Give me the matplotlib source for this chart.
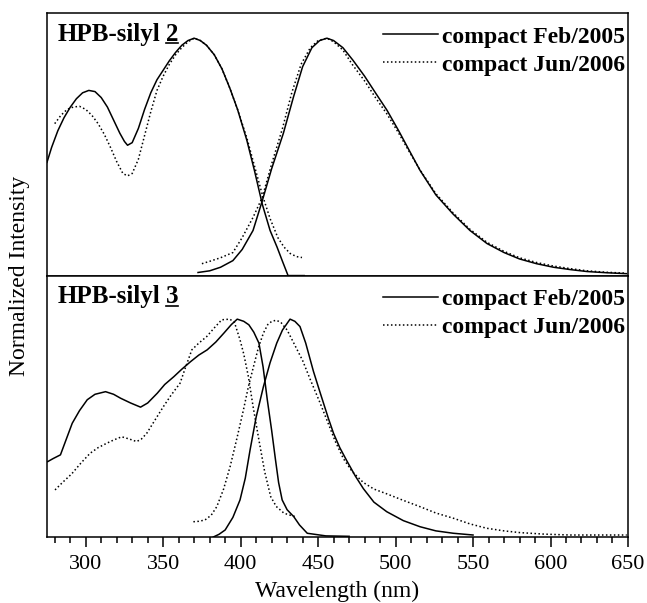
import matplotlib
matplotlib.use("Agg")
import matplotlib.pyplot as plt
from matplotlib.lines import Line2D
from matplotlib.ticker import MultipleLocator

plt.rcParams['font.family'] = ['Liberation Serif', 'DejaVu Serif']

# ---- HPB-silyl 2 ----
abs2_feb_x = [275, 278, 282, 286, 290, 294, 298, 302, 306, 310, 314, 318, 322, 325, 327,
              330, 334, 338, 342, 346, 350, 354, 358, 362, 366, 370, 374, 378, 383, 388,
              393, 398, 404, 409, 414, 419, 423.5, 427, 430.6, 435, 441]
abs2_feb_y = [0.477, 0.54, 0.61, 0.665, 0.709, 0.745, 0.77, 0.78, 0.775, 0.75, 0.71,
              0.655, 0.60, 0.565, 0.549, 0.56, 0.62, 0.70, 0.77, 0.825, 0.865, 0.905,
              0.94, 0.97, 0.99, 1.0, 0.99, 0.97, 0.93, 0.87, 0.79, 0.70, 0.57, 0.44,
              0.30, 0.19, 0.12, 0.06, 0.0, 0.0, 0.0]
abs2_jun_x = [280, 284, 288, 292, 296, 300, 304, 308, 312, 316, 320, 324, 327, 330, 334,
              338, 342, 346, 350, 354, 358, 362, 366, 370, 374, 378, 383, 388, 393, 398,
              404, 409, 414, 419, 424, 428, 432, 436, 439.6]
abs2_jun_y = [0.64, 0.675, 0.70, 0.71, 0.713, 0.70, 0.675, 0.64, 0.595, 0.54, 0.48, 0.43,
              0.42, 0.43, 0.49, 0.59, 0.69, 0.78, 0.84, 0.89, 0.93, 0.96, 0.985, 1.0,
              0.99, 0.97, 0.93, 0.87, 0.79, 0.70, 0.58, 0.46, 0.34, 0.24, 0.16, 0.12,
              0.093, 0.08, 0.076]
em2_feb_x = [372.5, 380, 387, 395, 401, 408, 414, 420, 427.6, 434, 440, 446, 451, 455.7,
             460, 466, 472.5, 480, 487, 494.5, 502, 509, 515.8, 526, 537, 548, 559,
             570, 580, 591, 602, 613, 623.6, 636, 649]
em2_feb_y = [0.013, 0.02, 0.035, 0.063, 0.11, 0.19, 0.316, 0.45, 0.60, 0.75, 0.88, 0.96,
             0.99, 1.0, 0.99, 0.96, 0.907, 0.84, 0.77, 0.696, 0.61, 0.525, 0.443, 0.34,
             0.26, 0.19, 0.135, 0.097, 0.07, 0.05, 0.035, 0.025, 0.017, 0.012, 0.008]
em2_jun_x = [375, 380, 387, 395, 401, 408, 414, 420, 427, 433, 439, 445, 450, 455.7,
             460, 466, 472, 480, 487, 494.5, 502, 509, 515.8, 526, 537, 548, 559,
             570, 580, 591, 602, 613, 623.6, 636, 649]
em2_jun_y = [0.05, 0.06, 0.075, 0.097, 0.16, 0.245, 0.33, 0.47, 0.62, 0.77, 0.89, 0.96,
             0.99, 1.0, 0.985, 0.95, 0.89, 0.82, 0.75, 0.68, 0.60, 0.52, 0.445, 0.345,
             0.265, 0.195, 0.14, 0.102, 0.075, 0.055, 0.04, 0.029, 0.02, 0.014, 0.01]

# ---- HPB-silyl 3 ----
abs3_feb_x = [275.5, 279, 283.7, 287, 291.3, 296, 301, 306, 312.8, 318, 322.5, 329,
              335.4, 340, 346.2, 351, 356.9, 362, 367.7, 373, 378.4, 384, 389.2, 394,
              397.8, 402, 405.3, 408.5, 411.8, 414.5, 417.2, 420, 422.5, 424.5, 426.8,
              430, 434.3, 438, 443, 455, 470]
abs3_feb_y = [0.346, 0.36, 0.377, 0.44, 0.522, 0.58, 0.63, 0.655, 0.667, 0.655, 0.637,
              0.615, 0.596, 0.615, 0.66, 0.70, 0.736, 0.77, 0.805, 0.835, 0.859, 0.895,
              0.936, 0.975, 1.0, 0.99, 0.974, 0.94, 0.89, 0.78, 0.63, 0.49, 0.354, 0.25,
              0.17, 0.125, 0.093, 0.055, 0.017, 0.005, 0.003]
abs3_jun_x = [280.2, 285, 291, 297, 302.8, 308, 313.5, 318, 323.2, 328, 332.9, 336,
              339.4, 345, 350.1, 355, 360.9, 364, 368.5, 373, 378.1, 383, 387.8, 393,
              396, 399.6, 402, 405, 408, 411.8, 415.5, 419.4, 423, 428, 432, 435.6]
abs3_jun_y = [0.216, 0.25, 0.29, 0.34, 0.384, 0.41, 0.43, 0.445, 0.46, 0.45, 0.438,
              0.45, 0.476, 0.54, 0.598, 0.65, 0.706, 0.77, 0.859, 0.89, 0.92, 0.96,
              0.997, 1.0, 0.985, 0.905, 0.84, 0.736, 0.60, 0.445, 0.30, 0.185, 0.14,
              0.109, 0.10, 0.093]
em3_feb_x = [382.4, 386, 390, 395, 399.6, 403, 406.1, 410, 414.7, 419, 423.3, 427,
             431.9, 435, 438.3, 442, 447, 451.2, 456.6, 460, 464, 468.5, 474, 479.2,
             486, 494.3, 505, 515.8, 526, 537.3, 550]
em3_feb_y = [0.0, 0.012, 0.032, 0.09, 0.17, 0.27, 0.40, 0.55, 0.69, 0.80, 0.89, 0.95,
             1.0, 0.99, 0.966, 0.89, 0.76, 0.665, 0.545, 0.475, 0.41, 0.35, 0.28,
             0.222, 0.16, 0.116, 0.075, 0.047, 0.028, 0.017, 0.009]
em3_jun_x = [369.5, 373, 377, 381, 384.6, 389, 393.2, 397.5, 401.8, 405, 408.3, 411.5,
             414.7, 417.5, 420.1, 423, 426, 430, 434.3, 440, 445.1, 451, 456.6, 461,
             466.3, 472, 479.2, 486, 494.3, 505, 515.8, 526, 537.3, 548, 558.8, 570,
             580.3, 596, 612.6, 630, 649.2]
em3_jun_y = [0.07, 0.072, 0.078, 0.10, 0.139, 0.22, 0.323, 0.45, 0.583, 0.69, 0.782,
             0.87, 0.936, 0.975, 0.99, 0.995, 0.985, 0.95, 0.89, 0.81, 0.72, 0.62, 0.52,
             0.44, 0.36, 0.30, 0.25, 0.22, 0.198, 0.168, 0.139, 0.11, 0.086, 0.06, 0.04,
             0.028, 0.02, 0.013, 0.009, 0.009, 0.009]

series_labels = ["compact Feb/2005", "compact Jun/2006"]
x_min, x_max = 275, 650

fig = plt.figure(figsize=(6.47, 6.03), dpi=100)
left, right = 0.0726, 0.9706
ax_top = fig.add_axes([left, 0.543, right - left, 0.978 - 0.543])
ax_bot = fig.add_axes([left, 0.1095, right - left, 0.543 - 0.1095], sharex=ax_top)

solid = dict(color='black', lw=1.1, ls='-')
dotted = dict(color='black', lw=1.1, ls=(0, (1, 1.6)))

ax_top.plot(abs2_feb_x, abs2_feb_y, **solid, label=series_labels[0])
ax_top.plot(abs2_jun_x, abs2_jun_y, **dotted, label=series_labels[1])
ax_top.plot(em2_feb_x, em2_feb_y, **solid)
ax_top.plot(em2_jun_x, em2_jun_y, **dotted)
ax_top.set_ylim(0, 1.105)

ax_bot.plot(abs3_feb_x, abs3_feb_y, **solid, label=series_labels[0])
ax_bot.plot(abs3_jun_x, abs3_jun_y, **dotted, label=series_labels[1])
ax_bot.plot(em3_feb_x, em3_feb_y, **solid)
ax_bot.plot(em3_jun_x, em3_jun_y, **dotted)
ax_bot.set_ylim(0, 1.2)

ax_bot.set_xlim(x_min, x_max)
ax_bot.xaxis.set_major_locator(MultipleLocator(50))
ax_bot.xaxis.set_minor_locator(MultipleLocator(10))

for ax in (ax_top, ax_bot):
    ax.set_yticks([])
    for s in ax.spines.values():
        s.set_linewidth(1.1)
    ax.legend(loc='upper right', bbox_to_anchor=(1.0, 0.96), frameon=False,
              handlelength=2.3, handletextpad=0.2, labelspacing=0.27,
              borderaxespad=0, borderpad=0.1,
              prop={'family': 'Liberation Serif', 'weight': 'bold', 'size': 17})

ax_top.tick_params(axis='x', which='both', bottom=False, labelbottom=False)
ax_bot.tick_params(axis='x', which='major', direction='out', length=7, width=1.1,
                   labelsize=16, pad=6)
ax_bot.tick_params(axis='x', which='minor', direction='out', length=4, width=1.1)

ax_bot.set_xlabel("Wavelength (nm)", fontsize=17, labelpad=5)
fig.text(0.03, 0.543, "Normalized Intensity", rotation=90, fontsize=17,
         ha='center', va='center')

# panel titles with underlined compound number
for ax, num in ((ax_top, "2"), (ax_bot, "3")):
    t1 = ax.text(0.018, 0.92, "HPB-silyl", transform=ax.transAxes, fontsize=18,
                 fontweight='bold', ha='left', va='center')
    t2 = ax.annotate(num, xy=(1, 0), xycoords=t1, xytext=(4, 0),
                     textcoords='offset points', fontsize=18, fontweight='bold',
                     ha='left', va='bottom')
    fig.canvas.draw()
    bb = t2.get_window_extent().transformed(fig.transFigure.inverted())
    yline = bb.y0 + 0.004
    fig.add_artist(Line2D([bb.x0, bb.x1], [yline, yline], color='black', lw=1.2,
                          transform=fig.transFigure))

fig.savefig("out.png", dpi=100)
